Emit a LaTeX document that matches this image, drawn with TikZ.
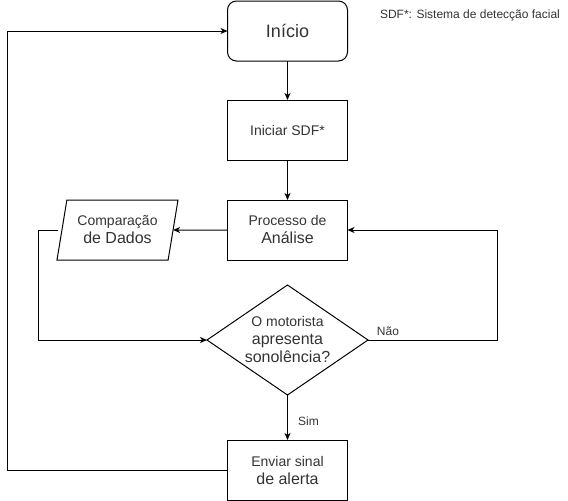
\documentclass[tikz,border=0pt]{standalone}
\usepackage{fontspec}
\setmainfont{Liberation Sans}
\usetikzlibrary{shapes.geometric,arrows.meta}
\definecolor{txt}{HTML}{333333}
\newcommand{\fs}[1]{\fontsize{#1}{18}\selectfont}
\tikzset{
  box/.style={draw, line width=1pt, minimum width=120pt, minimum height=60pt, inner sep=0pt, outer sep=0pt, align=center, text=txt, font=\fs{16}},
  arr/.style={draw, line width=1pt, -{Stealth[length=7pt,width=6pt,inset=2pt]}},
  lbl/.style={text=txt, font=\fs{12}, inner sep=0pt}
}
\begin{document}
\begin{tikzpicture}[x=1pt,y=-1pt]
\useasboundingbox (0,0) rectangle (568,501);
\node[box, rounded corners=9pt, font=\fs{18}] (inicio) at (287.5,31) {Início};
\node[box, font=\fs{14}] (sdf) at (287.5,130) {Iniciar SDF*};
\node[box] (proc) at (287.5,230) {\fs{14}Processo de\\Análise};
\node[trapezium, draw, line width=1pt, trapezium left angle=70.7, trapezium right angle=109.3, trapezium stretches body, minimum width=121pt, minimum height=60pt, inner sep=0pt, outer sep=0pt, align=center, text=txt, font=\fs{16}] (comp) at (117.5,230) {\fs{14}Comparação\\de Dados};
\node[diamond, draw, line width=1pt, minimum width=161pt, minimum height=110pt, inner sep=0pt, outer sep=0pt, shape aspect=1.46, align=center, text=txt, font=\fs{16}] (dec) at (287.5,340) {\fs{14}O motorista\\apresenta\\sonolência?};
\node[box] (alert) at (287.5,470) {\fs{14}Enviar sinal\\de alerta};
\node[lbl] (note) at (470,15) {SDF*: Sistema de detecção facial};
\coordinate (compout) at (58,230);
\draw[arr] (inicio) -- (sdf);
\draw[arr] (sdf) -- (proc);
\draw[arr] (proc.west) -- (comp.east);
\draw[arr] (compout) -- (38,230) |- (dec.west);
\draw[arr] (dec.east) -- (497,340) |- (proc.east);
\node[lbl] (nao) at (388,331) {Não};
\draw[arr] (dec.south) -- (alert.north);
\node[lbl] (sim) at (308.5,421) {Sim};
\draw[arr] (alert.west) -- (7,470) |- (inicio.west);
\end{tikzpicture}
\end{document}
